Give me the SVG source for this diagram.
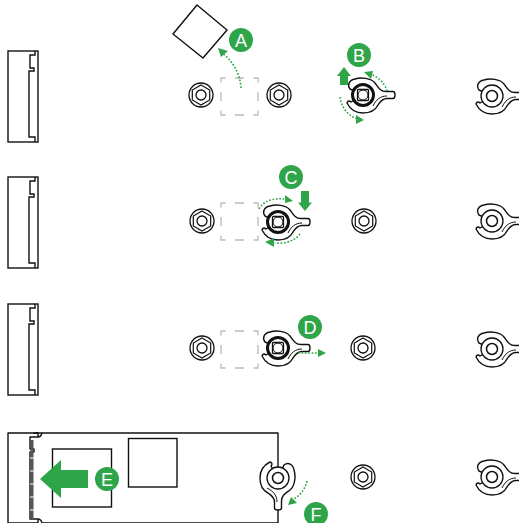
<svg xmlns="http://www.w3.org/2000/svg" xmlns:xlink="http://www.w3.org/1999/xlink" width="519" height="523" viewBox="0 0 519 523">
<style>
.o{fill:none;stroke:#111;stroke-width:1.4;stroke-linejoin:miter}
.w{fill:#fff;stroke:#111;stroke-width:1.4;stroke-linejoin:round}
.d{fill:none;stroke:#bbb;stroke-width:1.3;stroke-dasharray:9 9.5;stroke-dashoffset:4.5}
.g{fill:#2fa54a}
.dot{fill:none;stroke:#2fa54a;stroke-width:1.6;stroke-dasharray:1.7 1.7}
text{font-family:"Liberation Sans",Arial,sans-serif;font-size:18px;fill:#fff;text-anchor:middle}
</style>
<defs>
<g id="standoff">
<circle r="12" fill="#fff" stroke="#111" stroke-width="1.3"/>
<polygon points="0,-10 8.7,-5 8.7,5 0,10 -8.7,5 -8.7,-5" fill="none" stroke="#111" stroke-width="1.2"/>
<circle r="5" fill="none" stroke="#111" stroke-width="1.3"/>
</g>
<g id="wing">
<path class="w" d="M-13-6C-16-10-14-15-8-16C-2-18 8-17 12-12C15-8 17-3.500 23-3.500H30Q32-3.500 32 0Q32 3.500 30 3.500H24C19 3.500 17 7 15 10C12 16 6 18 0 18C-7 18-13 14-16 8C-15 5-13 6-12 7L0 0Z"/>
<path d="M10 11C13 5 17 1 24 1" fill="none" stroke="#111" stroke-width="1"/>
</g>
<g id="screwS">
<use xlink:href="#wing"/>
<circle r="10.500" fill="#fff" stroke="#111" stroke-width="3"/>
<circle r="5" fill="none" stroke="#111" stroke-width="1"/>
<rect x="-5.500" y="-5.500" width="11" height="11" rx="1" fill="none" stroke="#111" stroke-width="1.300"/>
</g>
<g id="screwP">
<use xlink:href="#wing"/>
<circle r="11" fill="#fff" stroke="#111" stroke-width="1.300"/>
<circle r="5.500" fill="none" stroke="#111" stroke-width="1.500"/>
</g>
<g id="slot">
<rect x="8" y="0" width="30" height="91" fill="#fff" stroke="#111" stroke-width="1.400"/>
<path class="o" d="M35 0V4H30V17H34V20H29V86H35V91"/>
</g>
<rect id="pad" class="d" width="37" height="37"/>
</defs>

<g id="slot-1"><use xlink:href="#slot" y="51"/></g>
<g id="slot-2"><use xlink:href="#slot" y="177"/></g>
<g id="slot-3"><use xlink:href="#slot" y="304"/></g>

<g id="chip-a"><polygon points="197,5 227,30 203,58 173,34" fill="#fff" stroke="#111" stroke-width="1.400"/></g>
<g id="pad-1"><use xlink:href="#pad" x="221" y="78"/></g>
<g id="pad-2"><use xlink:href="#pad" x="221" y="203"/></g>
<g id="pad-3"><use xlink:href="#pad" x="221" y="331"/></g>

<g id="standoff-1a"><use xlink:href="#standoff" x="201" y="95"/></g>
<g id="standoff-1b"><use xlink:href="#standoff" x="279" y="95"/></g>
<g id="standoff-2a"><use xlink:href="#standoff" x="202" y="221"/></g>
<g id="standoff-2b"><use xlink:href="#standoff" x="364" y="221"/></g>
<g id="standoff-3a"><use xlink:href="#standoff" x="202" y="348"/></g>
<g id="standoff-3b"><use xlink:href="#standoff" x="363" y="348"/></g>
<g id="standoff-4"><use xlink:href="#standoff" x="363" y="477"/></g>

<g id="screw-b"><use xlink:href="#screwS" x="363" y="95"/></g>
<g id="screw-c"><use xlink:href="#screwS" x="278" y="222"/></g>
<g id="screw-d"><use xlink:href="#screwS" x="278" y="348"/></g>
<g id="screw-r1"><use xlink:href="#screwP" x="492" y="96"/></g>
<g id="screw-r2"><use xlink:href="#screwP" x="492" y="221"/></g>
<g id="screw-r3"><use xlink:href="#screwP" x="492" y="349"/></g>
<g id="screw-r4"><use xlink:href="#screwP" x="492" y="477"/></g>

<g id="module">
<path class="w" d="M38 433H8V523H38Z" stroke-linejoin="miter"/>
<path class="w" stroke-linejoin="miter" d="M34 433H42Q41 437 38 437H30V449H34V452H30V519H38Q41 519 42 523H278V433Z"/>
<rect x="30.500" y="440" width="3" height="79" fill="#555"/>
<path d="M30 458h4M30 471h4M30 484h4M30 497h4M30 510h4" stroke="#fff" stroke-width="1"/>
<rect x="52.500" y="449" width="59" height="58" fill="#fff" stroke="#111" stroke-width="1.400"/>
<rect x="128.500" y="438.500" width="48.500" height="48.500" fill="#fff" stroke="#111" stroke-width="1.400"/>
</g>
<g id="screw-f"><use xlink:href="#screwP" transform="translate(278 478) rotate(90)"/></g>

<g id="connectors">
<path class="dot" d="M241 88C240 73 232 60 222 53"/>
<polygon class="g" points="218,48 228,51 221,57"/>
<path class="g" d="M344 67L351 76H348V85H340V76H337Z"/>
<path class="dot" d="M387 91C385 83 377 76 370 74"/>
<polygon class="g" points="364,72 373,71 371,79"/>
<path class="dot" d="M340 97C341 107 348 116 358 119"/>
<polygon class="g" points="364,120 356,115 356,124"/>
<path class="g" d="M305 211L312 202.500H309V191H301V202.500H298Z"/>
<path class="dot" d="M259 209C263 201 273 198 284 199"/>
<polygon class="g" points="293,201 285,195 285,203"/>
<path class="dot" d="M300 234C295 241 285 244 275 243"/>
<polygon class="g" points="265,242 274,238 274,247"/>
<path class="dot" d="M298 353H318"/>
<polygon class="g" points="326,353 318,349 318,357"/>
<path class="dot" d="M307 481C305 490 299 496 294 499"/>
<polygon class="g" points="288,505 291,497 297,503"/>
<path class="g" d="M40 479L61 460V470H88V488H61V498Z"/>
</g>

<g id="label-a"><circle class="g" cx="241" cy="40" r="12"/><text x="241" y="46.500">A</text></g>
<g id="label-b"><circle class="g" cx="359" cy="55" r="12"/><text x="359" y="61.500">B</text></g>
<g id="label-c"><circle class="g" cx="291" cy="177" r="12"/><text x="291" y="183.500">C</text></g>
<g id="label-d"><circle class="g" cx="310" cy="327" r="12"/><text x="310" y="333.500">D</text></g>
<g id="label-e"><circle class="g" cx="107" cy="479" r="12"/><text x="107" y="485.500">E</text></g>
<g id="label-f"><circle class="g" cx="316" cy="514" r="12"/><text x="316" y="520.500">F</text></g>
</svg>
